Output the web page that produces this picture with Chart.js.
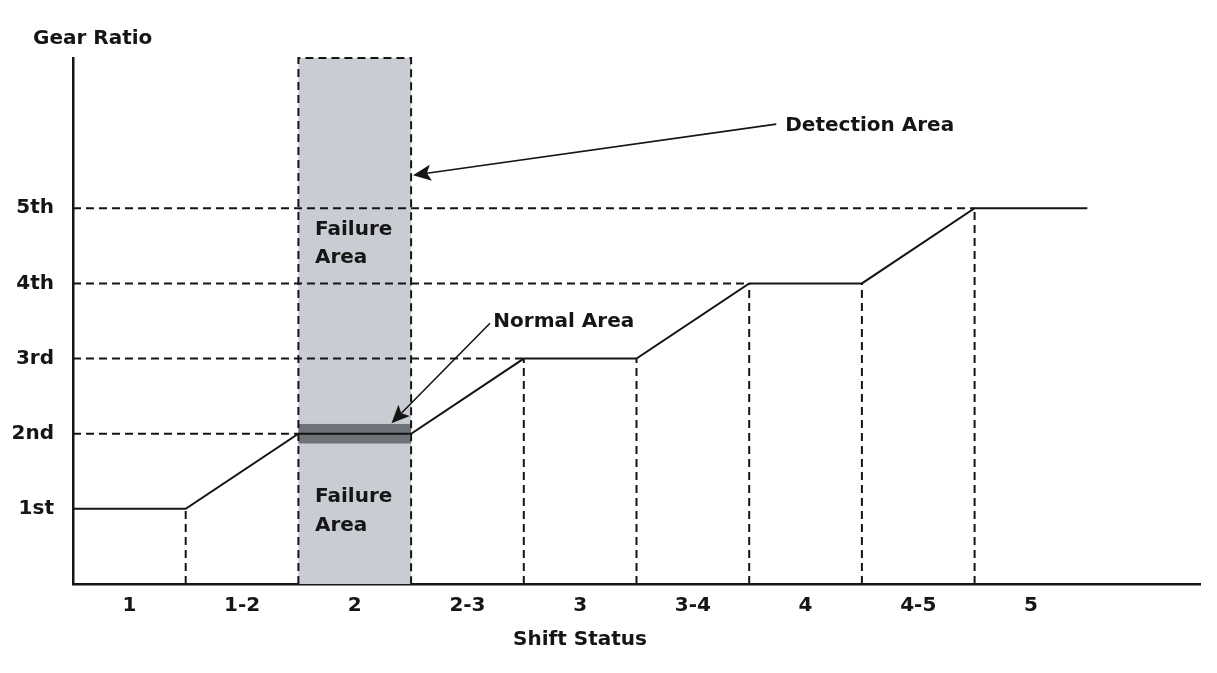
<!DOCTYPE html>
<html>
<head>
<meta charset="utf-8">
<script src="https://cdn.jsdelivr.net/npm/chart.js@4.4.1/dist/chart.umd.min.js"></script>
<style>
  html, body { margin: 0; padding: 0; background: #fff; }
  #wrap { width: 1217px; height: 673px; }
</style>
</head>
<body>
<div id="wrap"><canvas id="myChart"></canvas></div>
<script>
// Chart data
const shiftLabels = ['1', '1-2', '2', '2-3', '3', '3-4', '4', '4-5', '5'];
const gearLabels = ['1st', '2nd', '3rd', '4th', '5th'];
const shiftX = [0, 1, 2, 3, 4, 5, 6, 7, 8, 9];
const gearValues = [1, 1, 2, 2, 3, 3, 4, 4, 5, 5];
const detectionRange = [2, 3];   // shift positions of the detection box
const detectionTop = 7;
const normalBand = [1.87, 2.13];  // gear ratio band counted as normal

const ink = '#151515';
const font = 'bold 20px "DejaVu Sans"';

// dashed guide lines, built from the curve
const guides = [];
for (let i = 1; i < shiftX.length - 1; i++) {
  if (shiftX[i] === detectionRange[0] || shiftX[i] === detectionRange[1]) continue;
  guides.push([{ x: shiftX[i], y: 0 }, { x: shiftX[i], y: gearValues[i] }]);
}
for (let i = 1; i < shiftX.length; i++) {
  if (gearValues[i] > gearValues[i - 1]) {
    guides.push([{ x: 0, y: gearValues[i] }, { x: shiftX[i], y: gearValues[i] }]);
  }
}

const guideSets = guides.map(pts => ({
  data: pts,
  showLine: true,
  borderColor: ink,
  borderWidth: 2,
  borderDash: [8, 5],
  pointRadius: 0
}));

const datasets = [{
  data: shiftX.map((x, i) => ({ x: x, y: gearValues[i] })),
  showLine: true,
  borderColor: ink,
  borderWidth: 2,
  pointRadius: 0
}].concat(guideSets);

// arrow helper
const arrow = (ctx, x1, y1, x2, y2) => {
  const ang = Math.atan2(y2 - y1, x2 - x1);
  const len = 18, half = 8;
  const bx = x2 - len * Math.cos(ang), by = y2 - len * Math.sin(ang);
  ctx.beginPath();
  ctx.moveTo(x1, y1);
  ctx.lineTo(bx + 4 * Math.cos(ang), by + 4 * Math.sin(ang));
  ctx.stroke();
  ctx.beginPath();
  ctx.moveTo(x2, y2);
  ctx.lineTo(bx + half * Math.sin(ang), by - half * Math.cos(ang));
  ctx.lineTo(bx + 4 * Math.cos(ang), by + 4 * Math.sin(ang));
  ctx.lineTo(bx - half * Math.sin(ang), by + half * Math.cos(ang));
  ctx.closePath();
  ctx.fill();
};

const areaPlugin = {
  id: 'areas',
  beforeDatasetsDraw(chart) {
    const { ctx, scales: { x, y } } = chart;
    const x0 = x.getPixelForValue(detectionRange[0]);
    const x1 = x.getPixelForValue(detectionRange[1]);
    const yt = y.getPixelForValue(detectionTop);
    const yb = y.getPixelForValue(0);
    ctx.save();
    ctx.fillStyle = '#c9cdd3';
    ctx.fillRect(x0, yt, x1 - x0, yb - yt);
    ctx.fillStyle = '#6e7379';
    const n0 = y.getPixelForValue(normalBand[1]);
    const n1 = y.getPixelForValue(normalBand[0]);
    ctx.fillRect(x0, n0, x1 - x0, n1 - n0);
    ctx.strokeStyle = ink;
    ctx.lineWidth = 2;
    ctx.setLineDash([8, 5]);
    ctx.beginPath();
    ctx.moveTo(x0, yb);
    ctx.lineTo(x0, yt);
    ctx.lineTo(x1, yt);
    ctx.lineTo(x1, yb);
    ctx.stroke();
    ctx.restore();
  },
  afterDatasetsDraw(chart) {
    const { ctx, scales: { x, y } } = chart;
    const px = v => x.getPixelForValue(v);
    const py = v => y.getPixelForValue(v);
    ctx.save();
    ctx.fillStyle = ink;
    ctx.strokeStyle = ink;
    ctx.lineWidth = 1.6;
    ctx.font = font;
    ctx.textBaseline = 'middle';
    ctx.textAlign = 'left';
    // failure labels
    ctx.fillText('Failure', px(2.147), py(4.72));
    ctx.fillText('Area', px(2.147), py(4.34));
    ctx.fillText('Failure', px(2.147), py(1.16));
    ctx.fillText('Area', px(2.147), py(0.77));
    // callouts
    ctx.fillText('Detection Area', px(6.32), py(6.1));
    arrow(ctx, px(6.24), py(6.12), px(3.017), py(5.44));
    ctx.fillText('Normal Area', px(3.73), py(3.49));
    arrow(ctx, px(3.70), py(3.47), px(2.826), py(2.14));
    // axis titles
    ctx.fillText('Gear Ratio', 33, 39);
    ctx.textAlign = 'center';
    ctx.fillText('Shift Status', 580, 640);
    ctx.restore();
  }
};

Chart.defaults.font.family = '"DejaVu Sans"';
Chart.defaults.font.size = 20;
Chart.defaults.font.weight = 'bold';
Chart.defaults.color = ink;

const ctx = document.getElementById('myChart').getContext('2d');
const myChart = new Chart(ctx, {
  type: 'scatter',
  data: { datasets: datasets },
  options: {
    responsive: true,
    maintainAspectRatio: false,
    animation: false,
    devicePixelRatio: 1,
    layout: { padding: { top: 58, right: 17, left: 0, bottom: 0 } },
    plugins: { legend: { display: false }, tooltip: { enabled: false } },
    scales: {
      x: {
        type: 'linear',
        min: 0,
        max: 10,
        grid: { display: false },
        border: { color: ink, width: 2.5 },
        afterBuildTicks: s => { s.ticks = shiftLabels.map((_, i) => ({ value: i + 0.5 })); },
        afterFit: s => { s.height = 89; },
        ticks: {
          padding: 2,
          maxRotation: 0,
          callback: v => shiftLabels[Math.round(v - 0.5)]
        }
      },
      y: {
        type: 'linear',
        min: 0,
        max: detectionTop,
        grid: { display: false },
        border: { color: ink, width: 2.5 },
        afterBuildTicks: s => { s.ticks = gearLabels.map((_, i) => ({ value: i + 1 })); },
        afterFit: s => { s.width = 73; },
        ticks: {
          padding: 11,
          callback: v => gearLabels[Math.round(v) - 1]
        }
      }
    }
  },
  plugins: [areaPlugin]
});
</script>
</body>
</html>
